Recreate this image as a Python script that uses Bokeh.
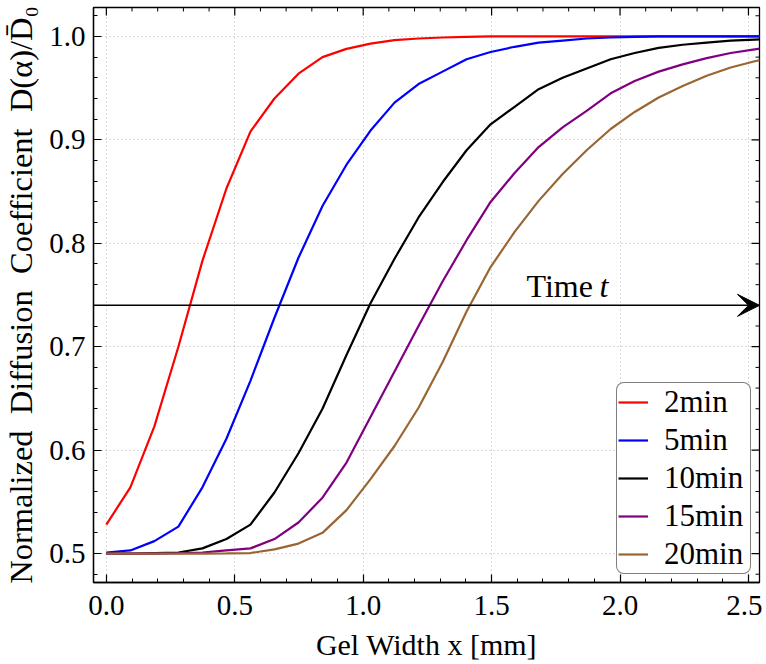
import math
from bokeh.plotting import figure
from bokeh.models import Range1d, FixedTicker, Arrow, VeeHead, Legend, LegendItem
from bokeh.embed import file_html
from bokeh.resources import INLINE
from bokeh.core.properties import value

# ---------------- data ----------------
x_mm = [0.0, 0.0935, 0.187, 0.2805, 0.374, 0.4675, 0.561, 0.6545, 0.748, 0.8415,
        0.935, 1.0285, 1.122, 1.2155, 1.309, 1.4025, 1.496, 1.5895, 1.683, 1.7765,
        1.87, 1.9635, 2.057, 2.1505, 2.244, 2.3375, 2.431, 2.5245, 2.618]

d_2min = [0.528, 0.564, 0.623, 0.700, 0.783, 0.853, 0.908, 0.940, 0.964, 0.980,
          0.988, 0.993, 0.9965, 0.998, 0.999, 0.9995, 1.0, 1.0, 1.0, 1.0,
          1.0, 1.0, 1.0, 1.0, 1.0, 1.0, 1.0, 1.0, 1.0]
d_5min = [0.501, 0.503, 0.512, 0.526, 0.564, 0.611, 0.667, 0.728, 0.786, 0.836,
          0.876, 0.909, 0.936, 0.954, 0.966, 0.978, 0.985, 0.990, 0.994, 0.996,
          0.998, 0.999, 0.9995, 1.0, 1.0, 1.0, 1.0, 1.0, 1.0]
d_10min = [0.500, 0.500, 0.5005, 0.501, 0.505, 0.514, 0.528, 0.559, 0.597, 0.640,
           0.692, 0.742, 0.785, 0.825, 0.859, 0.890, 0.915, 0.932, 0.949, 0.960,
           0.969, 0.978, 0.984, 0.989, 0.992, 0.994, 0.996, 0.997, 0.998]
d_15min = [0.500, 0.500, 0.500, 0.5003, 0.501, 0.503, 0.505, 0.514, 0.530, 0.554,
           0.588, 0.632, 0.676, 0.720, 0.763, 0.803, 0.840, 0.868, 0.893, 0.912,
           0.928, 0.945, 0.957, 0.966, 0.973, 0.979, 0.984, 0.9875, 0.991]
d_20min = [0.500, 0.500, 0.500, 0.500, 0.500, 0.5002, 0.5005, 0.504, 0.5096, 0.520,
           0.542, 0.572, 0.604, 0.641, 0.685, 0.734, 0.777, 0.811, 0.841, 0.867,
           0.890, 0.9105, 0.927, 0.941, 0.952, 0.962, 0.970, 0.976, 0.981]

series_values = [d_2min, d_5min, d_10min, d_15min, d_20min]
series_labels = ["2min", "5min", "10min", "15min", "20min"]
series_colors = ["#ff0000", "#0000ff", "#000000", "#800080", "#996633"]

x_ticks = [0.0, 0.5, 1.0, 1.5, 2.0, 2.5]
x_minor_ticks = [0.1, 0.2, 0.3, 0.4, 0.6, 0.7, 0.8, 0.9, 1.1, 1.2, 1.3, 1.4,
                 1.6, 1.7, 1.8, 1.9, 2.1, 2.2, 2.3, 2.4]
y_ticks = [0.5, 0.6, 0.7, 0.8, 0.9, 1.0]
y_minor_ticks = [0.48, 0.52, 0.54, 0.56, 0.58, 0.62, 0.64, 0.66, 0.68, 0.72, 0.74,
                 0.76, 0.78, 0.82, 0.84, 0.86, 0.88, 0.92, 0.94, 0.96, 0.98, 1.02]
x_tick_labels = {0.0: "0.0", 0.5: "0.5", 1.0: "1.0", 1.5: "1.5", 2.0: "2.0", 2.5: "2.5"}
y_tick_labels = {0.5: "0.5", 0.6: "0.6", 0.7: "0.7", 0.8: "0.8", 0.9: "0.9", 1.0: "1.0"}

x_label = "Gel Width x [mm]"
y_label = "Normalized\u00a0 Diffusion\u00a0 Coefficient\u00a0 D(\u03b1)/D\u0304\u2080"

arrow_y = 0.74
time_label_x = 1.636
time_label_y = 0.759

x_min, x_max = -0.05, 2.543
y_min, y_max = 0.472, 1.028

FONT = "Liberation Serif"
MAJOR_LEN = 8
MINOR_LEN = 4

# ---------------- figure ----------------
p = figure(width=762, height=664, output_backend="svg", toolbar_location=None,
           x_range=Range1d(x_min, x_max), y_range=Range1d(y_min, y_max),
           x_axis_label=x_label, y_axis_label=y_label)
p.min_border_left = 93
p.min_border_bottom = 82
p.min_border_top = 7
p.min_border_right = 3
p.background_fill_color = "white"
p.border_fill_color = "white"
p.outline_line_color = "black"
p.outline_line_width = 1.3
p.outline_line_alpha = 1.0


def style_axis(ax, ticks, minor, overrides, font_size, standoff):
    ax.ticker = FixedTicker(ticks=ticks, minor_ticks=minor)
    ax.major_tick_in = MAJOR_LEN
    ax.major_tick_out = 0
    ax.minor_tick_in = MINOR_LEN
    ax.minor_tick_out = 0
    ax.axis_line_color = "black"
    ax.axis_line_width = 1.3
    ax.major_tick_line_color = "black"
    ax.major_tick_line_width = 1.2
    ax.minor_tick_line_color = "black"
    ax.minor_tick_line_width = 1.0
    ax.major_label_text_font = FONT
    ax.major_label_text_color = "black"
    ax.major_label_text_font_size = "29px"
    ax.major_label_standoff = standoff
    ax.major_label_overrides = overrides
    ax.axis_label_text_font = FONT
    ax.axis_label_text_font_style = "normal"
    ax.axis_label_text_color = "black"
    ax.axis_label_text_font_size = font_size


style_axis(p.xaxis[0], x_ticks, x_minor_ticks, x_tick_labels, "30px", 13)
style_axis(p.yaxis[0], y_ticks, y_minor_ticks, y_tick_labels, "32.5px", 8)
p.xaxis[0].axis_label_standoff = 10
p.yaxis[0].axis_label_standoff = 7

# inward ticks on the top and right edges of the frame
p.ray(x=x_ticks, y=[y_max] * len(x_ticks), length=MAJOR_LEN, length_units="screen",
      angle=-math.pi / 2, line_color="black", line_width=1.2)
p.ray(x=x_minor_ticks, y=[y_max] * len(x_minor_ticks), length=MINOR_LEN, length_units="screen",
      angle=-math.pi / 2, line_color="black", line_width=1.0)
p.ray(x=[x_max] * len(y_ticks), y=y_ticks, length=MAJOR_LEN, length_units="screen",
      angle=math.pi, line_color="black", line_width=1.2)
p.ray(x=[x_max] * len(y_minor_ticks), y=y_minor_ticks, length=MINOR_LEN, length_units="screen",
      angle=math.pi, line_color="black", line_width=1.0)

p.xgrid.ticker = FixedTicker(ticks=x_ticks)
p.ygrid.ticker = FixedTicker(ticks=y_ticks)
for g in (p.xgrid[0], p.ygrid[0]):
    g.grid_line_color = "#b4b4b4"
    g.grid_line_dash = "1 3"
    g.grid_line_width = 1

renderers = []
for vals, col in zip(series_values, series_colors):
    r = p.line(x_mm, vals, line_color=col, line_width=2.2)
    renderers.append(r)

# time arrow
p.add_layout(Arrow(end=VeeHead(size=22, fill_color="black", line_color="black", line_width=1),
                   x_start=x_min, y_start=arrow_y, x_end=x_max, y_end=arrow_y,
                   line_color="black", line_width=1.5))
p.text(x=[time_label_x], y=[time_label_y], text=["Time"], text_font=value(FONT),
       text_font_size="32px", text_align="left", text_baseline="alphabetic", text_color="black")
p.text(x=[time_label_x], y=[time_label_y], text=["t"], text_font=value(FONT),
       text_font_size="32px", text_font_style="italic", text_align="left",
       text_baseline="alphabetic", text_color="black", x_offset=73)

legend = Legend(items=[LegendItem(label=lab, renderers=[r]) for lab, r in zip(series_labels, renderers)],
                location="bottom_right")
legend.label_text_font = FONT
legend.label_text_font_size = "31px"
legend.label_text_color = "black"
legend.glyph_width = 30
legend.glyph_height = 30
legend.label_height = 30
legend.label_width = 85
legend.spacing = 2
legend.padding = 1
legend.margin = 8
legend.label_standoff = 16
legend.border_line_color = "black"
legend.border_line_width = 1.3
legend.background_fill_color = "white"
legend.background_fill_alpha = 1.0
try:
    legend.border_radius = 8
except Exception:
    pass
p.add_layout(legend)

open("out.html", "w").write(file_html(p, INLINE))
